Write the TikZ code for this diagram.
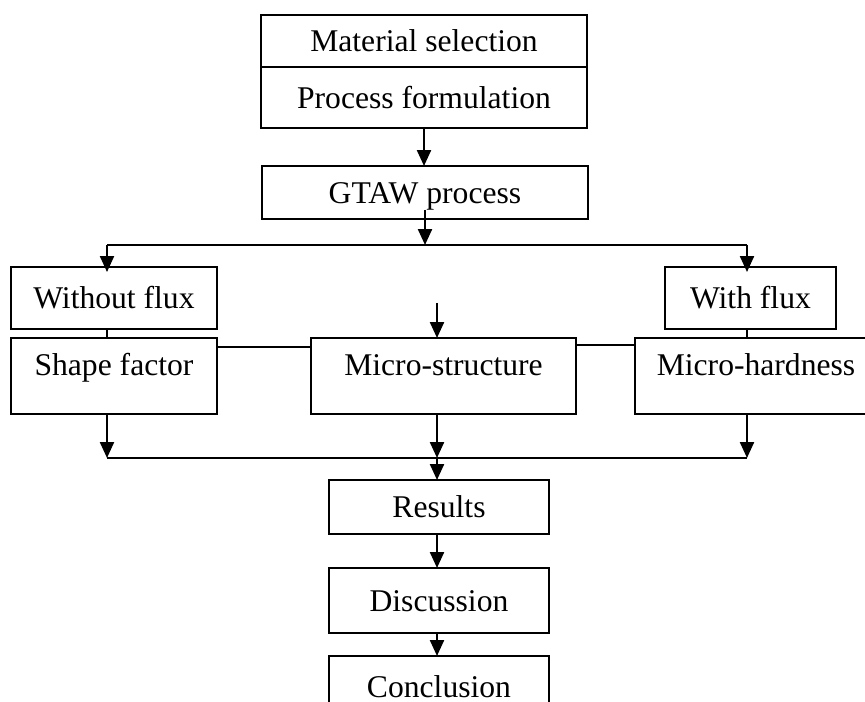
\documentclass[tikz,border=0pt]{standalone}
\usepackage{fontspec}
\setmainfont{Liberation Serif}
\usepackage{tikz}
\usetikzlibrary{arrows.meta}
\tikzset{%
  stagebox/.style={draw, line width=1.1pt, rectangle, outer sep=0pt, inner sep=0pt,
    font=\fontsize{18}{21}\selectfont, text height=0.47cm, text depth=0.04cm},
  tallbox/.style={stagebox, text height=0.3cm, text depth=0.3cm, minimum height=1.52cm},
  flow/.style={line width=1.3pt},
  flowarrow/.style={flow, -{Triangle[length=0.32cm,width=0.28cm]}}
}

\begin{document}
\begin{tikzpicture}[x=0.02cm,y=-0.02cm]
    \path[use as bounding box, clip] (0,0) rectangle (865,702);
    % Top stack.
    \node[stagebox, minimum width=6.52cm, minimum height=1.04cm] (matsel) at (424,41) {Material selection};
    \node[stagebox, minimum width=6.52cm, minimum height=1.22cm] (procform) at (424,97.5) {Process formulation};
    \node[stagebox, minimum width=6.52cm, minimum height=1.06cm] (gtaw) at (425,192.5) {GTAW process};
    \draw[flowarrow] (procform.south) -- (procform.south |- gtaw.north);
    % Split into both welding routes.
    \coordinate (gtawout) at (425,210);
    \coordinate (split) at (425,245);
    \coordinate (splitL) at (107,245);
    \coordinate (splitR) at (747,245);
    \draw[flowarrow] (gtawout) -- (split);
    \draw[flow] (splitL) -- (splitR);
    \node[stagebox, minimum width=4.12cm, minimum height=1.24cm] (woflux) at (114,298) {Without flux};
    \node[stagebox, minimum width=3.42cm, minimum height=1.24cm] (wflux) at (750.5,298) {With flux};
    \draw[flowarrow, shorten >=-0.1cm] (splitL) -- (splitL |- woflux.north);
    \draw[flowarrow, shorten >=-0.1cm] (splitR) -- (splitR |- wflux.north);
    % Responses.
    \node[tallbox, minimum width=4.12cm] (shape) at (114,376) {Shape factor};
    \node[tallbox, minimum width=5.3cm] (micro) at (443.5,376) {Micro-structure};
    \node[tallbox, minimum width=4.84cm] (mhard) at (756,376) {Micro-hardness};
    \draw[flow] (splitL |- woflux.south) -- (splitL |- shape.north);
    \draw[flow] (splitR |- wflux.south) -- (splitR |- mhard.north);
    \coordinate (microin) at (437,303);
    \draw[flowarrow] (microin) -- (microin |- micro.north);
    \coordinate (linkL) at (0,347);
    \coordinate (linkR) at (0,345);
    \draw[flow] (shape.east |- linkL) -- (micro.west |- linkL);
    \draw[flow] (micro.east |- linkR) -- (mhard.west |- linkR);
    % Merge.
    \coordinate (mergeL) at (107,458);
    \coordinate (merge) at (437,458);
    \coordinate (mergeR) at (747,458);
    \draw[flowarrow] (mergeL |- shape.south) -- (mergeL);
    \draw[flowarrow] (merge |- micro.south) -- (merge);
    \draw[flowarrow] (mergeR |- mhard.south) -- (mergeR);
    \draw[flow] (mergeL) -- (mergeR);
    % Bottom stack.
    \node[stagebox, minimum width=4.4cm, minimum height=1.08cm] (results) at (439,507) {Results};
    \node[stagebox, minimum width=4.4cm, minimum height=1.3cm] (discuss) at (439,600.5) {Discussion};
    \node[stagebox, minimum width=4.4cm, minimum height=1.24cm] (concl) at (439,687) {Conclusion};
    \draw[flowarrow] (merge) -- (merge |- results.north);
    \draw[flowarrow] (merge |- results.south) -- (merge |- discuss.north);
    \draw[flowarrow] (merge |- discuss.south) -- (merge |- concl.north);
\end{tikzpicture}
\end{document}
